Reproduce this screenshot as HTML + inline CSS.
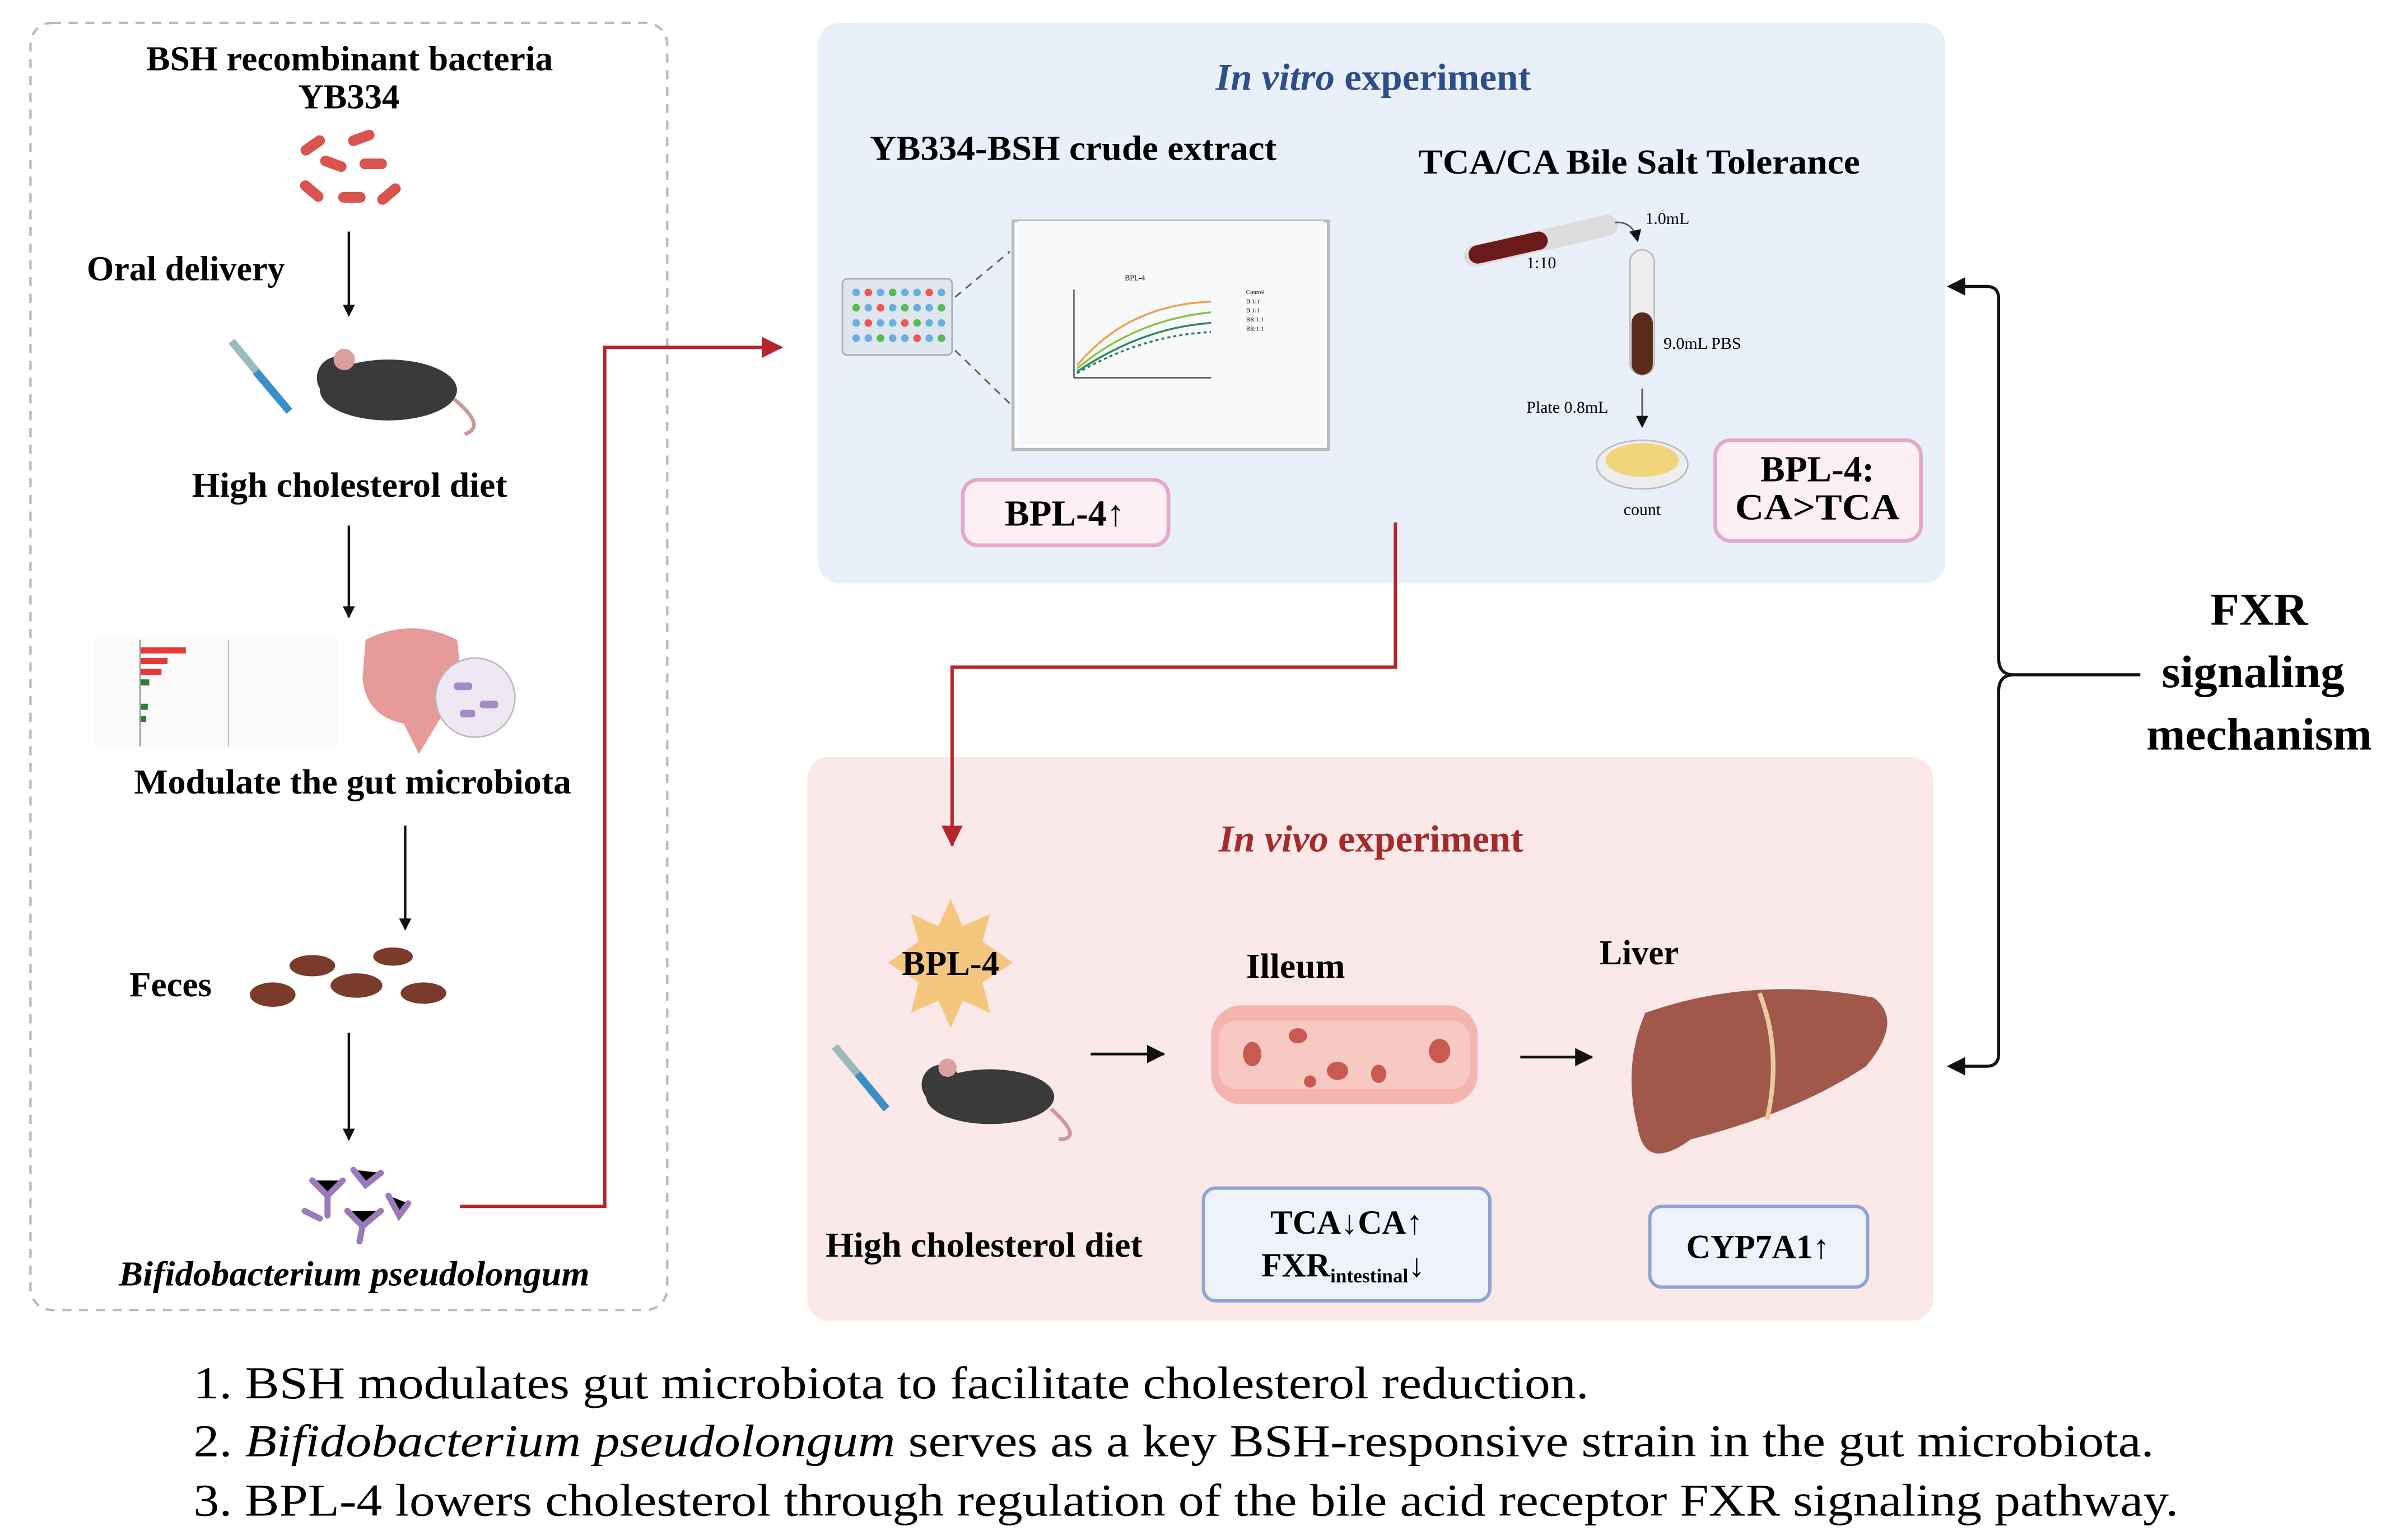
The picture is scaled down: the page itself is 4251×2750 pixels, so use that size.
<!DOCTYPE html>
<html><head><meta charset="utf-8">
<style>
html,body{margin:0;padding:0;background:#fff;}
svg{display:block;}
text{font-family:"Liberation Serif",serif;}
.b{font-weight:bold;}
</style></head>
<body>
<svg width="4251" height="2750" viewBox="0 0 1563 1011" xmlns="http://www.w3.org/2000/svg">
<defs>
<marker id="ak" markerWidth="8" markerHeight="8" refX="7" refY="4" orient="auto" markerUnits="userSpaceOnUse"><path d="M0,0 L8,4 L0,8 z" fill="#111"/></marker>
<marker id="ar" markerWidth="14" markerHeight="14" refX="13" refY="7" orient="auto" markerUnits="userSpaceOnUse"><path d="M0,0 L14,7 L0,14 z" fill="#b5262b"/></marker>
<marker id="ab" markerWidth="12" markerHeight="12" refX="11" refY="6" orient="auto" markerUnits="userSpaceOnUse"><path d="M0,0 L12,6 L0,12 z" fill="#111"/></marker>
</defs>

<!-- Left dashed box -->
<rect x="20" y="15" width="418" height="845" rx="14" fill="none" stroke="#bbb" stroke-width="1.6" stroke-dasharray="6,5"/>
<text x="96" y="46" class="b" font-size="23" textLength="267" lengthAdjust="spacingAndGlyphs">BSH recombinant bacteria</text>
<text x="229" y="71" class="b" font-size="23" text-anchor="middle">YB334</text>
<g fill="#d9534f">
<rect x="196" y="92" width="18" height="7" rx="3.5" transform="rotate(-35 205 95)"/>
<rect x="228" y="87" width="18" height="7" rx="3.5" transform="rotate(-20 237 90)"/>
<rect x="210" y="104" width="18" height="7" rx="3.5" transform="rotate(20 219 107)"/>
<rect x="236" y="104" width="18" height="7" rx="3.5"/>
<rect x="196" y="122" width="18" height="7" rx="3.5" transform="rotate(40 205 125)"/>
<rect x="222" y="126" width="18" height="7" rx="3.5"/>
<rect x="246" y="124" width="18" height="7" rx="3.5" transform="rotate(-40 255 127)"/>
</g>
<text x="57" y="184" class="b" font-size="23" textLength="130" lengthAdjust="spacingAndGlyphs">Oral delivery</text>
<line x1="229" y1="152" x2="229" y2="207" stroke="#111" stroke-width="1.6" marker-end="url(#ak)"/>
<g>
<line x1="152" y1="224" x2="190" y2="270" stroke="#9bb" stroke-width="5"/>
<line x1="168" y1="244" x2="190" y2="270" stroke="#3a8fc4" stroke-width="5"/>
<ellipse cx="255" cy="256" rx="45" ry="20" fill="#3a3a3a"/>
<circle cx="222" cy="248" r="14" fill="#3a3a3a"/>
<circle cx="226" cy="236" r="7" fill="#d9a0a0"/>
<path d="M298,262 Q320,280 305,285" fill="none" stroke="#c99" stroke-width="2.5"/>
</g>
<text x="126" y="326" class="b" font-size="23" textLength="207" lengthAdjust="spacingAndGlyphs">High cholesterol diet</text>
<line x1="229" y1="345" x2="229" y2="405" stroke="#111" stroke-width="1.6" marker-end="url(#ak)"/>
<g>
<rect x="62" y="418" width="160" height="72" fill="#fafafa"/>
<g fill="#e53935"><rect x="92" y="425" width="30" height="4"/><rect x="92" y="432" width="18" height="4"/><rect x="92" y="439" width="14" height="4"/></g>
<g fill="#2e7d32"><rect x="92" y="446" width="6" height="4"/><rect x="92" y="462" width="5" height="4"/><rect x="92" y="470" width="4" height="4"/></g>
<line x1="92" y1="420" x2="92" y2="490" stroke="#999"/>
<line x1="150" y1="420" x2="150" y2="490" stroke="#ccc"/>
</g>
<g>
<path d="M240,420 Q270,405 300,420 Q305,450 290,470 L275,495 L265,475 Q240,470 238,445 z" fill="#e79a9a"/>
<circle cx="312" cy="458" r="26" fill="#eee8f4" stroke="#bbb"/>
<g fill="#a58ac8"><rect x="298" y="448" width="12" height="5" rx="2"/><rect x="315" y="460" width="12" height="5" rx="2"/><rect x="302" y="466" width="10" height="5" rx="2"/></g>
</g>
<text x="88" y="521" class="b" font-size="23" textLength="287" lengthAdjust="spacingAndGlyphs">Modulate the gut microbiota</text>
<line x1="266" y1="542" x2="266" y2="610" stroke="#111" stroke-width="1.6" marker-end="url(#ak)"/>
<text x="85" y="654" class="b" font-size="23" textLength="54" lengthAdjust="spacingAndGlyphs">Feces</text>
<g fill="#7a3b2a">
<ellipse cx="205" cy="634" rx="15" ry="7"/><ellipse cx="258" cy="628" rx="13" ry="6"/>
<ellipse cx="179" cy="653" rx="15" ry="8"/><ellipse cx="234" cy="647" rx="17" ry="8"/><ellipse cx="278" cy="652" rx="15" ry="7"/>
</g>
<line x1="229" y1="678" x2="229" y2="748" stroke="#111" stroke-width="1.6" marker-end="url(#ak)"/>
<g stroke="#9a7ab8" stroke-width="4" stroke-linecap="round">
<path d="M205,775 L215,785 L225,775 M215,785 L215,798"/>
<path d="M232,768 L240,778 L250,770"/>
<path d="M228,795 L238,805 L250,795 M238,805 L236,815"/>
<path d="M255,785 L262,798 L268,790"/>
<path d="M200,795 L210,800"/>
</g>
<text x="78" y="844" class="b" font-size="23" font-style="italic" textLength="309" lengthAdjust="spacingAndGlyphs">Bifidobacterium pseudolongum</text>

<!-- blue box -->
<rect x="537" y="15" width="740" height="368" rx="14" fill="#e9f0fa"/>
<text x="798" y="59" font-size="25" class="b" fill="#2d4e8a" textLength="207" lengthAdjust="spacingAndGlyphs"><tspan font-style="italic">In vitro</tspan> experiment</text>
<text x="571" y="105" class="b" font-size="23" textLength="267" lengthAdjust="spacingAndGlyphs">YB334-BSH crude extract</text>
<text x="931" y="114" class="b" font-size="23" textLength="290" lengthAdjust="spacingAndGlyphs">TCA/CA Bile Salt Tolerance</text>
<rect x="553" y="183" width="72" height="50" rx="3" fill="#dfe6ee" stroke="#aab"/>
<g fill="#6ab0de">
<circle cx="562" cy="192" r="2.5"/><circle cx="570" cy="192" r="2.5" fill="#e55"/><circle cx="578" cy="192" r="2.5"/><circle cx="586" cy="192" r="2.5" fill="#5b5"/><circle cx="594" cy="192" r="2.5"/><circle cx="602" cy="192" r="2.5"/><circle cx="610" cy="192" r="2.5" fill="#e55"/><circle cx="618" cy="192" r="2.5"/>
<circle cx="562" cy="202" r="2.5" fill="#5b5"/><circle cx="570" cy="202" r="2.5"/><circle cx="578" cy="202" r="2.5" fill="#e55"/><circle cx="586" cy="202" r="2.5"/><circle cx="594" cy="202" r="2.5" fill="#5b5"/><circle cx="602" cy="202" r="2.5"/><circle cx="610" cy="202" r="2.5"/><circle cx="618" cy="202" r="2.5" fill="#5b5"/>
<circle cx="562" cy="212" r="2.5"/><circle cx="570" cy="212" r="2.5" fill="#e55"/><circle cx="578" cy="212" r="2.5"/><circle cx="586" cy="212" r="2.5"/><circle cx="594" cy="212" r="2.5" fill="#e55"/><circle cx="602" cy="212" r="2.5" fill="#5b5"/><circle cx="610" cy="212" r="2.5"/><circle cx="618" cy="212" r="2.5"/>
<circle cx="562" cy="222" r="2.5"/><circle cx="570" cy="222" r="2.5"/><circle cx="578" cy="222" r="2.5" fill="#5b5"/><circle cx="586" cy="222" r="2.5"/><circle cx="594" cy="222" r="2.5"/><circle cx="602" cy="222" r="2.5" fill="#e55"/><circle cx="610" cy="222" r="2.5"/><circle cx="618" cy="222" r="2.5" fill="#5b5"/>
</g>
<line x1="627" y1="195" x2="663" y2="165" stroke="#555" stroke-dasharray="5,4"/>
<line x1="627" y1="230" x2="663" y2="265" stroke="#555" stroke-dasharray="5,4"/>
<rect x="665" y="145" width="207" height="150" fill="#fff" stroke="#bbb" stroke-width="2"/>
<rect x="668" y="145" width="201" height="147" fill="#f7f9fb"/>
<line x1="705" y1="190" x2="705" y2="248" stroke="#333" stroke-width="0.8"/>
<line x1="705" y1="248" x2="795" y2="248" stroke="#333" stroke-width="0.8"/>
<text x="745" y="184" font-size="5" text-anchor="middle">BPL-4</text>
<path d="M707,240 Q740,200 795,198" fill="none" stroke="#f0a050" stroke-width="1.3"/>
<path d="M707,242 Q745,210 795,205" fill="none" stroke="#8bc34a" stroke-width="1.3"/>
<path d="M707,244 Q750,215 795,212" fill="none" stroke="#2e8b57" stroke-width="1.3"/>
<path d="M707,245 Q750,220 795,218" fill="none" stroke="#2e7d6b" stroke-width="1.3" stroke-dasharray="2,2"/>
<g font-size="4"><text x="818" y="193">Control</text><text x="818" y="199">B:1:1</text><text x="818" y="205">B:1:1</text><text x="818" y="211">BR:1:1</text><text x="818" y="217">BR:1:1</text></g>
<rect x="632" y="315" width="135" height="43" rx="10" fill="#fdf0f5" stroke="#e3a9c9" stroke-width="2.5"/>
<text x="699" y="345" class="b" font-size="24" text-anchor="middle">BPL-4↑</text>
<line x1="968" y1="168" x2="1055" y2="148" stroke="#ddd" stroke-width="14" stroke-linecap="round"/>
<line x1="970" y1="167" x2="1010" y2="158" stroke="#6a1a1a" stroke-width="12" stroke-linecap="round"/>
<text x="1002" y="176" font-size="11">1:10</text>
<path d="M1060,146 Q1072,145 1075,158" fill="none" stroke="#555" stroke-width="1" marker-end="url(#ak)"/>
<text x="1080" y="147" font-size="11">1.0mL</text>
<rect x="1070" y="164" width="16" height="82" rx="8" fill="#eee" stroke="#bbb"/>
<rect x="1071" y="205" width="14" height="41" rx="7" fill="#5a2a1a"/>
<text x="1092" y="229" font-size="11">9.0mL PBS</text>
<text x="1002" y="271" font-size="11">Plate 0.8mL</text>
<line x1="1078" y1="255" x2="1078" y2="280" stroke="#555" marker-end="url(#ak)"/>
<ellipse cx="1078" cy="305" rx="30" ry="16" fill="#eee" stroke="#bbb"/>
<ellipse cx="1078" cy="302" rx="24" ry="11" fill="#f0d57a"/>
<text x="1078" y="338" font-size="11" text-anchor="middle">count</text>
<rect x="1126" y="289" width="135" height="66" rx="10" fill="#fdf0f5" stroke="#e3a9c9" stroke-width="2.5"/>
<text x="1193" y="316" class="b" font-size="24" text-anchor="middle">BPL-4:</text>
<text x="1193" y="341" class="b" font-size="24" text-anchor="middle" textLength="108" lengthAdjust="spacingAndGlyphs">CA&gt;TCA</text>

<!-- pink box -->
<rect x="530" y="497" width="739" height="370" rx="14" fill="#fbe9ea"/>
<text x="800" y="559" font-size="25" class="b" fill="#a72a2a" textLength="200" lengthAdjust="spacingAndGlyphs"><tspan font-style="italic">In vivo</tspan> experiment</text>
<polygon points="624,590 632,608 650,600 645,618 665,632 645,645 650,665 632,657 624,675 616,657 598,665 603,645 583,632 603,618 598,600 616,608" fill="#f5c77e"/>
<text x="624" y="640" class="b" font-size="23" text-anchor="middle">BPL-4</text>
<line x1="548" y1="687" x2="582" y2="728" stroke="#9bb" stroke-width="5"/>
<line x1="563" y1="705" x2="582" y2="728" stroke="#3a8fc4" stroke-width="5"/>
<ellipse cx="650" cy="720" rx="42" ry="18" fill="#3a3a3a"/>
<circle cx="618" cy="712" r="13" fill="#3a3a3a"/>
<circle cx="622" cy="701" r="6" fill="#d9a0a0"/>
<path d="M690,728 Q712,748 695,748" fill="none" stroke="#c99" stroke-width="2.5"/>
<text x="542" y="825" class="b" font-size="23" textLength="208" lengthAdjust="spacingAndGlyphs">High cholesterol diet</text>
<line x1="716" y1="692" x2="764" y2="692" stroke="#111" stroke-width="1.8" marker-end="url(#ab)"/>
<text x="818" y="642" class="b" font-size="23" textLength="65" lengthAdjust="spacingAndGlyphs">Illeum</text>
<rect x="795" y="660" width="175" height="65" rx="20" fill="#f4b5b0"/>
<rect x="800" y="670" width="165" height="45" rx="12" fill="#f8c8c2"/>
<g fill="#c95a50"><ellipse cx="822" cy="692" rx="6" ry="8"/><ellipse cx="852" cy="680" rx="6" ry="5"/><ellipse cx="878" cy="703" rx="7" ry="6"/><ellipse cx="905" cy="705" rx="5" ry="6"/><ellipse cx="945" cy="690" rx="7" ry="8"/><ellipse cx="860" cy="710" rx="4" ry="4"/></g>
<line x1="998" y1="694" x2="1045" y2="694" stroke="#111" stroke-width="1.8" marker-end="url(#ab)"/>
<text x="1050" y="633" class="b" font-size="23" textLength="52" lengthAdjust="spacingAndGlyphs">Liver</text>
<path d="M1080,665 Q1150,640 1230,655 Q1250,670 1225,700 Q1180,730 1110,748 Q1080,770 1075,740 Q1065,700 1080,665 z" fill="#a1584a"/>
<path d="M1155,652 Q1170,690 1160,735" fill="none" stroke="#e8c9a0" stroke-width="3"/>
<rect x="790" y="780" width="188" height="74" rx="8" fill="#eef2fb" stroke="#8ea4d2" stroke-width="2.2"/>
<text x="884" y="810" class="b" font-size="22" text-anchor="middle">TCA↓CA↑</text>
<text x="828" y="838" class="b" font-size="22">FXR<tspan font-size="13" dy="4">intestinal</tspan><tspan dy="-4">↓</tspan></text>
<rect x="1083" y="792" width="143" height="53" rx="8" fill="#eef2fb" stroke="#8ea4d2" stroke-width="2.2"/>
<text x="1154" y="826" class="b" font-size="22" text-anchor="middle">CYP7A1↑</text>

<!-- red connectors (on top) -->
<polyline points="302,792 397,792 397,228 513,228" fill="none" stroke="#b5262b" stroke-width="2.2" marker-end="url(#ar)"/>
<polyline points="916,343 916,438 625,438 625,555" fill="none" stroke="#b5262b" stroke-width="2.2" marker-end="url(#ar)"/>

<!-- bracket -->
<path d="M1280,188 L1304,188 Q1312,188 1312,196 L1312,432 Q1312,443 1322,443 L1405,443 M1322,443 Q1312,443 1312,454 L1312,692 Q1312,700 1304,700 L1280,700" fill="none" stroke="#111" stroke-width="2"/>
<path d="M1278,188 L1290,182 L1290,194 z" fill="#111"/>
<path d="M1278,700 L1290,694 L1290,706 z" fill="#111"/>
<text x="1451" y="410" class="b" font-size="30" textLength="64" lengthAdjust="spacingAndGlyphs">FXR</text>
<text x="1419" y="451" class="b" font-size="30" textLength="120" lengthAdjust="spacingAndGlyphs">signaling</text>
<text x="1409" y="492" class="b" font-size="30" textLength="148" lengthAdjust="spacingAndGlyphs">mechanism</text>

<!-- bottom text -->
<text x="127" y="918" font-size="30" textLength="916" lengthAdjust="spacingAndGlyphs">1. BSH modulates gut microbiota to facilitate cholesterol reduction.</text>
<text x="127" y="956" font-size="30" textLength="1287" lengthAdjust="spacingAndGlyphs">2. <tspan font-style="italic">Bifidobacterium pseudolongum</tspan> serves as a key BSH-responsive strain in the gut microbiota.</text>
<text x="127" y="995" font-size="30" textLength="1303" lengthAdjust="spacingAndGlyphs">3. BPL-4 lowers cholesterol through regulation of the bile acid receptor FXR signaling pathway.</text>
</svg>
</body></html>
